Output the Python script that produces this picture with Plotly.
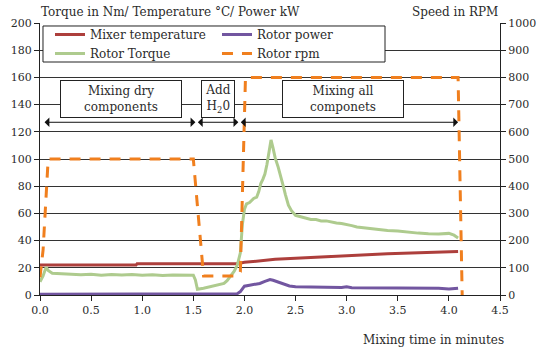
import plotly.graph_objects as go

# ---------------- data ----------------
time_torque = [0.00, 0.03, 0.06, 0.08, 0.12, 0.20, 0.30, 0.40, 0.50, 0.60, 0.70, 0.80, 0.90, 1.00,
               1.10, 1.20, 1.30, 1.40, 1.50, 1.52, 1.54, 1.60, 1.65, 1.70, 1.75, 1.80, 1.83, 1.86,
               1.90, 1.93, 1.96, 1.98, 2.00, 2.02, 2.05, 2.09, 2.12, 2.14, 2.16, 2.18, 2.20, 2.22,
               2.24, 2.26, 2.28, 2.30, 2.33, 2.35, 2.38, 2.40, 2.43, 2.46, 2.50, 2.55, 2.60, 2.65,
               2.70, 2.75, 2.80, 2.85, 2.90, 2.95, 3.00, 3.05, 3.10, 3.15, 3.20, 3.30, 3.40, 3.50,
               3.60, 3.70, 3.80, 3.90, 4.00, 4.05, 4.09]
torque = [9.8, 14, 20.5, 18, 16, 15.5, 15, 14.8, 15.2, 14.6, 15, 14.7, 15.1, 14.6,
          14.8, 14.4, 14.7, 14.5, 14.6, 11, 4.2, 5, 6, 7, 7.8, 8.5, 10.5, 13.5,
          17.5, 22, 31, 52, 63, 67, 68, 71, 72, 76, 82, 85, 89, 96,
          106, 114, 108, 101, 94, 89, 80, 74, 66, 62, 58.5, 57.5, 56.5, 55.5,
          55.5, 54.5, 54.5, 53.5, 53, 52.5, 52, 51, 50, 49.5, 49, 48, 47.5, 47,
          46, 45.5, 45, 44.8, 45.3, 44, 42]

time_temp = [0.00, 0.94, 0.95, 1.93, 2.00, 2.10, 2.20, 2.30, 2.40, 2.50, 2.60, 2.70, 2.80,
             2.90, 3.00, 3.10, 3.20, 3.30, 3.40, 3.50, 3.60, 3.70, 3.80, 3.90, 4.00, 4.09]
temp = [22, 22, 23, 23, 24, 24.8, 25.5, 26.2, 26.6, 27, 27.5, 28, 28.3,
        28.8, 29.3, 29.6, 29.8, 30, 30.3, 30.5, 30.7, 31, 31.2, 31.3, 31.5, 32]

time_power = [0.00, 1.85, 1.93, 1.96, 1.98, 2.00, 2.05, 2.10, 2.15, 2.20, 2.25, 2.28, 2.32,
              2.36, 2.40, 2.44, 2.50, 2.60, 2.80, 2.95, 3.00, 3.05, 3.50, 3.90, 4.00, 4.05, 4.09]
power = [0.5, 0.5, 1, 2.5, 5, 6.5, 7.2, 7.8, 8.5, 10, 11.3, 10.8, 9.8,
         8.5, 7.6, 6.6, 6, 5.8, 5.6, 5.5, 6, 5.4, 5.2, 5, 4.4, 5, 5]

time_rpm = [0.00, 0.03, 0.08, 1.50, 1.60, 1.93, 1.96, 2.01, 4.09, 4.13]
rpm = [65, 165, 500, 500, 70, 70, 85, 800, 800, 0]

phase_labels = ["Mixing dry<br>components", "Add<br>H<sub>2</sub>0", "Mixing all<br>componets"]
phase_start = [0.03, 1.53, 1.95]
phase_end = [1.52, 1.94, 4.09]
phase_label_x = [0.79, 1.74, 2.96]
phase_box_width = [116, 28, 116]

x_ticks = [0.0, 0.5, 1.0, 1.5, 2.0, 2.5, 3.0, 3.5, 4.0, 4.5]

# ---------------- styles ----------------
FONT = "DejaVu Serif"
TXT = "#2b2b2b"
C_TEMP = "#AD3F3C"
C_POWER = "#7256A0"
C_TORQUE = "#AECB8E"
C_RPM = "#F07F1E"

fig = go.Figure()
fig.add_trace(go.Scatter(x=time_temp, y=temp, name="Mixer temperature", mode="lines",
                         line=dict(color=C_TEMP, width=3)))
fig.add_trace(go.Scatter(x=time_power, y=power, name="Rotor power", mode="lines",
                         line=dict(color=C_POWER, width=3)))
fig.add_trace(go.Scatter(x=time_torque, y=torque, name="Rotor Torque", mode="lines",
                         line=dict(color=C_TORQUE, width=3)))
fig.add_trace(go.Scatter(x=time_rpm, y=rpm, name="Rotor rpm", mode="lines", yaxis="y2",
                         line=dict(color=C_RPM, width=3, dash="11px,9px")))

# legend frame (white box with border, legend drawn on top of it)
fig.add_shape(type="rect", xref="paper", yref="paper", x0=0.0065, x1=0.75, y0=0.8566, y1=0.989,
              fillcolor="white", line=dict(color="#222", width=1), layer="above")

# phase boxes and arrows
for lab, s, e, lx, w in zip(phase_labels, phase_start, phase_end, phase_label_x, phase_box_width):
    fig.add_annotation(x=e, y=127, ax=s, ay=127, xref="x", yref="y", axref="x", ayref="y",
                       text="", showarrow=True, arrowhead=1, startarrowhead=1,
                       arrowside="end+start", arrowsize=1.6, startarrowsize=1.6,
                       arrowwidth=1, arrowcolor="#111")
    fig.add_annotation(x=lx, y=143.8, xref="x", yref="y", text=lab, showarrow=False,
                       font=dict(family=FONT, size=12, color=TXT),
                       bgcolor="white", bordercolor="#222", borderwidth=1, borderpad=2,
                       width=w, height=32)

fig.add_annotation(xref="paper", yref="paper", x=-0.003, y=1.0, xanchor="left", yanchor="bottom",
                   yshift=2, text="Torque in Nm/ Temperature °C/ Power kW", showarrow=False,
                   font=dict(family=FONT, size=12, color=TXT))
fig.add_annotation(xref="paper", yref="paper", x=1.0, y=1.0, xanchor="right", yanchor="bottom",
                   yshift=2, text="Speed in RPM", showarrow=False,
                   font=dict(family=FONT, size=12, color=TXT))
fig.add_annotation(xref="paper", yref="paper", x=1.012, y=0, xanchor="right", yanchor="top",
                   yshift=-36, text="Mixing time in minutes", showarrow=False,
                   font=dict(family=FONT, size=12, color=TXT))

fig.update_layout(
    width=550, height=353,
    margin=dict(l=40, r=50, t=23, b=58),
    paper_bgcolor="white", plot_bgcolor="white",
    font=dict(family=FONT, size=11, color=TXT),
    showlegend=True,
    legend=dict(orientation="h", x=0.0217, y=1.011, xanchor="left", yanchor="top",
                entrywidth=122, entrywidthmode="pixels",
                bgcolor="rgba(0,0,0,0)", borderwidth=0,
                font=dict(family=FONT, size=12, color=TXT), tracegroupgap=0),
    xaxis=dict(range=[0, 4.5], tickvals=x_ticks, tickformat=".1f", showgrid=False,
               showline=True, linecolor="#222", linewidth=1, ticks="outside", ticklen=5,
               tickcolor="#222", zeroline=False, tickfont=dict(size=11)),
    yaxis=dict(range=[0, 200], dtick=20, showgrid=True, gridcolor="#333", gridwidth=1,
               showline=True, linecolor="#222", linewidth=1, ticks="outside", ticklen=5,
               tickcolor="#222", zeroline=False, tickfont=dict(size=11)),
    yaxis2=dict(range=[0, 1000], dtick=100, overlaying="y", side="right", showgrid=False,
                showline=True, linecolor="#222", linewidth=1, ticks="outside", ticklen=5,
                tickcolor="#222", zeroline=False, tickfont=dict(size=11)),
)

fig.write_html("out.html", config={"displayModeBar": False},
               post_script="document.body.style.margin='0px';")
